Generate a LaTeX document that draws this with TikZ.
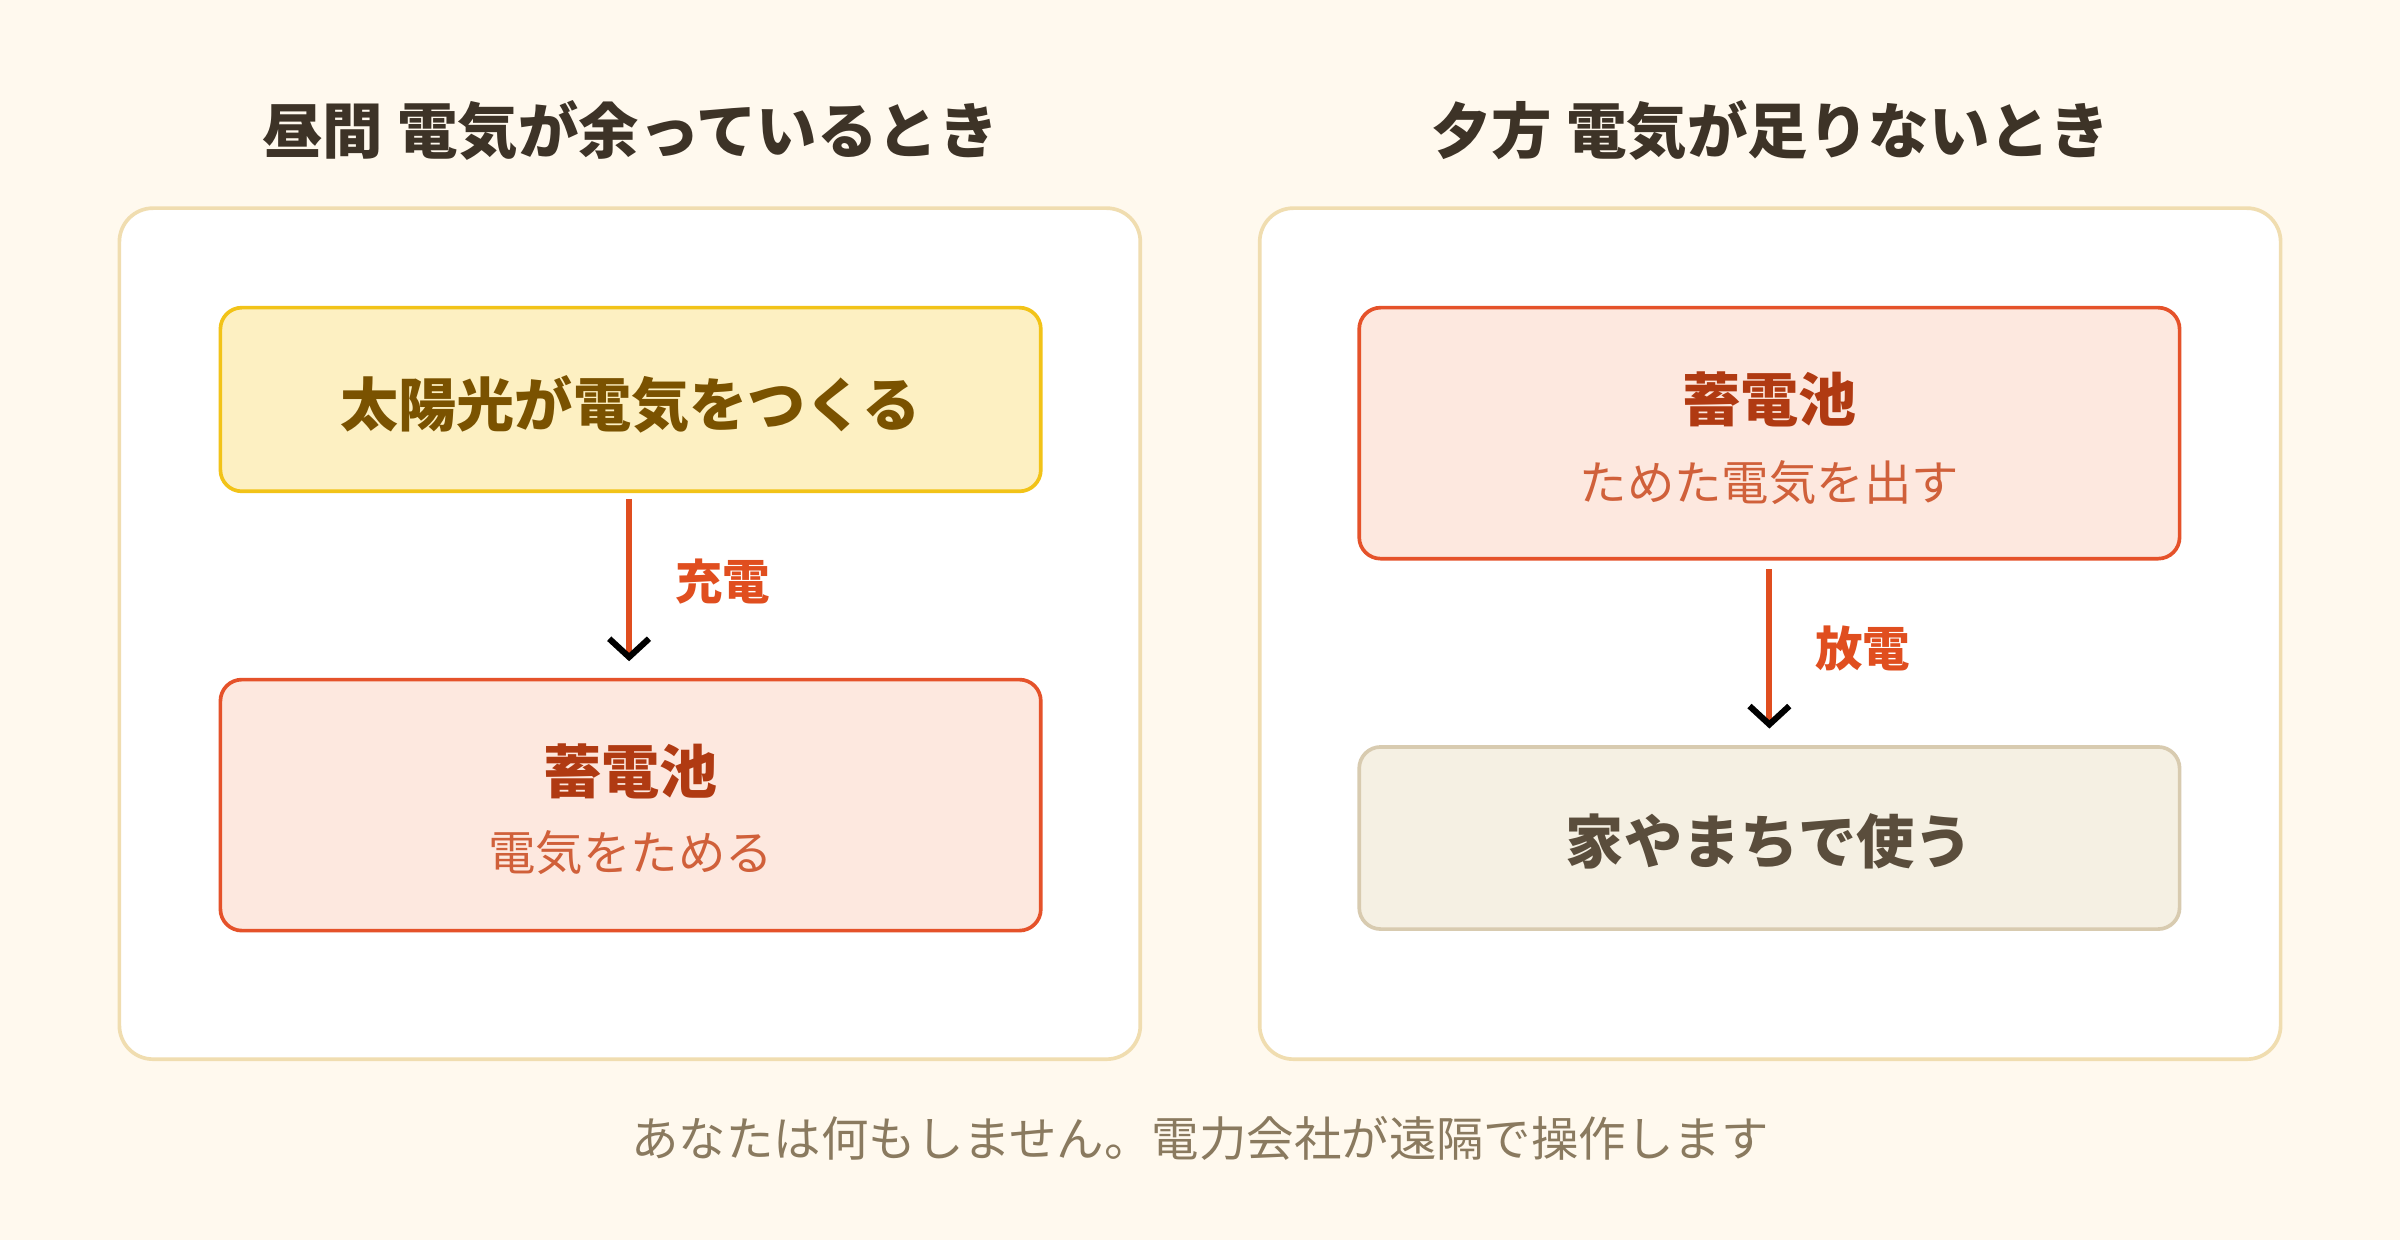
\documentclass[tikz,border=0pt]{standalone}
\usepackage{fontspec}
\setmainfont{Noto Sans CJK JP}
\usetikzlibrary{arrows.meta}
\definecolor{bg}{HTML}{FFF9EE}
\definecolor{panelb}{HTML}{F0DDB0}
\definecolor{ttl}{HTML}{3D3327}
\definecolor{sunf}{HTML}{FDF0C2}
\definecolor{sund}{HTML}{F2C318}
\definecolor{sunt}{HTML}{7A5200}
\definecolor{batf}{HTML}{FDE8DF}
\definecolor{batd}{HTML}{E5522A}
\definecolor{batt}{HTML}{B03A12}
\definecolor{bats}{HTML}{D0603A}
\definecolor{usef}{HTML}{F5F0E3}
\definecolor{used}{HTML}{D8CBB0}
\definecolor{uset}{HTML}{5A4D3C}
\definecolor{arr}{HTML}{E04E1F}
\definecolor{foot}{HTML}{8A7A5F}
\begin{document}
\begin{tikzpicture}[x=1pt,y=-1pt,
  panel/.style={draw=panelb,line width=2.4pt,fill=white,rounded corners=22pt},
  box/.style={line width=2.4pt,rounded corners=14pt},
  title/.style={font=\bfseries\fontsize{39.5}{46}\selectfont,text=ttl},
  big/.style={font=\bfseries\fontsize{38}{46}\selectfont},
  small/.style={font=\fontsize{31}{36}\selectfont},
  flow/.style={draw=arr,line width=4pt,-{Straight Barb[length=12pt,width=26pt,line width=4pt,color=black]}},
  lab/.style={font=\bfseries\fontsize{31}{36}\selectfont,text=arr}]
\fill[bg] (0,0) rectangle (1568,810);
\useasboundingbox (0,0) rectangle (1568,810);
\draw[panel] (78,136) rectangle (745,692);
\draw[panel] (823,136) rectangle (1490,692);
\node[title] (t1) at (412,85) {昼間 電気が余っているとき};
\node[title] (t2) at (1157,85) {夕方 電気が足りないとき};
% left
\draw[box,draw=sund,fill=sunf] (144,201) rectangle (680,321);
\node[big,text=sunt] (sun) at (412,264) {太陽光が電気をつくる};
\coordinate (a1) at (411,326); \coordinate (a2) at (411,432);
\draw[flow] (a1) -- (a2);
\node[lab] (l1) at (472,380) {充電};
\draw[box,draw=batd,fill=batf] (144,444) rectangle (680,608);
\node[big,text=batt] (b1) at (412,504) {蓄電池};
\node[small,text=bats] (b1s) at (412,557) {電気をためる};
% right
\draw[box,draw=batd,fill=batf] (888,201) rectangle (1424,365);
\node[big,text=batt] (b2) at (1156,261) {蓄電池};
\node[small,text=bats] (b2s) at (1156,315) {ためた電気を出す};
\coordinate (c1) at (1156,372); \coordinate (c2) at (1156,476);
\draw[flow] (c1) -- (c2);
\node[lab] (l2) at (1217,424) {放電};
\draw[box,draw=used,fill=usef] (888,488) rectangle (1424,607);
\node[big,text=uset] (u) at (1156,550) {家やまちで使う};
\node[small,text=foot] (f) at (784,744) {あなたは何もしません。電力会社が遠隔で操作します};
\end{tikzpicture}
\end{document}
